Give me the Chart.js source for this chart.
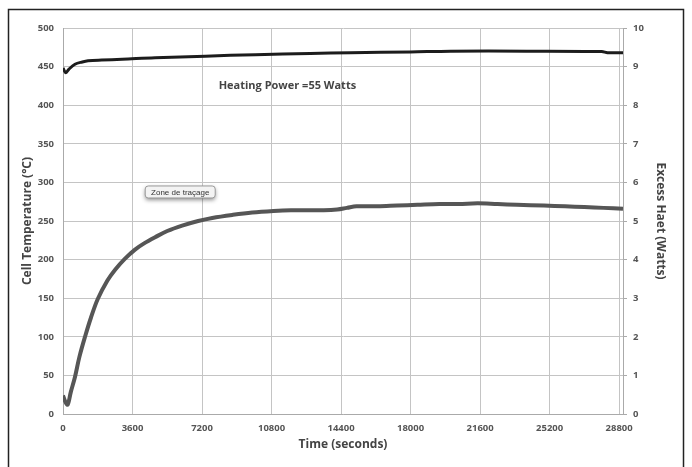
<!DOCTYPE html>
<html>
<head>
<meta charset="utf-8">
<script src="https://cdn.jsdelivr.net/npm/chart.js@4.4.1/dist/chart.umd.min.js"></script>
<style>
  html, body { margin: 0; padding: 0; background: #fff; }
  #wrap { width: 692px; height: 467px; position: relative; }
</style>
</head>
<body>
<div id="wrap"><canvas id="cellChart" width="692" height="467"></canvas></div>
<script>
// Data
const xTicks = [0, 3600, 7200, 10800, 14400, 18000, 21600, 25200, 28800];

// lower curve (left axis, Cell Temperature °C)
const tempTime = [0, 120, 240, 400, 620, 850, 1140, 1450, 1800, 2300, 2700, 3200, 3730, 4200, 4770, 5400, 6170, 7000, 7730, 8800, 9800, 10900, 11800, 12650, 13500, 14200, 14700, 15200, 16300, 17300, 18360, 19500, 20500, 21470, 22500, 23500, 24900, 26000, 27000, 28000, 29000];
const tempValues = [24, 16, 12, 28, 48, 74, 100, 125, 149, 173, 187, 201, 213, 221, 229, 237, 244, 250, 254, 258, 261, 263, 264, 264, 264, 265, 267, 269, 269, 270, 271, 272, 272, 273, 272, 271, 270, 269, 268, 267, 266];

// upper curve (right axis, Excess heat W)
const heatTime = [0, 150, 300, 620, 1000, 1300, 2000, 3060, 4770, 7370, 9960, 12800, 14900, 18000, 20070, 24000, 27900, 28200, 29000];
const heatValues = [8.96, 8.84, 8.93, 9.06, 9.12, 9.15, 9.17, 9.19, 9.23, 9.27, 9.31, 9.34, 9.36, 9.38, 9.40, 9.40, 9.39, 9.36, 9.36];

const FONT = '"Open Sans", "Liberation Sans", sans-serif';

// text notes + frame
const notesPlugin = {
    id: 'notes',
    afterDraw: function(chart) {
        const ctx = chart.ctx;
        const x = chart.scales.x, y = chart.scales.y;
        ctx.save();

        // Heating power label
        ctx.font = 'bold 11px ' + FONT;
        ctx.fillStyle = '#444';
        ctx.textAlign = 'center';
        ctx.textBaseline = 'middle';
        ctx.fillText('Heating Power =55 Watts', x.getPixelForValue(11620), y.getPixelForValue(425));

        // "Zone de traçage" tag
        const cx = x.getPixelForValue(6070), cy = y.getPixelForValue(287.6);
        const w = 70, h = 12;
        ctx.shadowColor = 'rgba(0,0,0,0.45)';
        ctx.shadowBlur = 4;
        ctx.shadowOffsetY = 2;
        ctx.fillStyle = '#f3f3f3';
        ctx.beginPath();
        ctx.roundRect(cx - w / 2, cy - h / 2, w, h, 3);
        ctx.fill();
        ctx.shadowColor = 'transparent';
        ctx.strokeStyle = '#999';
        ctx.lineWidth = 1;
        ctx.stroke();
        ctx.font = '8px "Liberation Sans", sans-serif';
        ctx.fillStyle = '#333';
        ctx.fillText('Zone de traçage', cx, cy + 0.5);

        // outer frame
        ctx.strokeStyle = '#222';
        ctx.lineWidth = 1.5;
        ctx.strokeRect(8.5, 9.5, 675, 470);
        ctx.restore();
    }
};

const tickFont = { family: FONT, size: 9.5, weight: 'bold' };
const titleFont = { family: FONT, size: 12, weight: 'bold' };

new Chart(document.getElementById('cellChart'), {
    type: 'line',
    data: {
        datasets: [
            {
                label: 'Excess Heat',
                data: heatTime.map((t, i) => ({ x: t, y: heatValues[i] })),
                yAxisID: 'y2',
                borderColor: '#1c1c1c',
                borderWidth: 3,
                pointRadius: 0,
                tension: 0.35
            },
            {
                label: 'Cell Temperature',
                data: tempTime.map((t, i) => ({ x: t, y: tempValues[i] })),
                yAxisID: 'y',
                borderColor: '#565656',
                borderWidth: 4,
                pointRadius: 0,
                tension: 0.35
            }
        ]
    },
    options: {
        responsive: false,
        animation: false,
        layout: { padding: { left: 10, right: 10, top: 28, bottom: 10 } },
        plugins: { legend: { display: false }, tooltip: { enabled: false } },
        scales: {
            x: {
                type: 'linear',
                min: 0, max: 29000,
                afterBuildTicks: s => { s.ticks = xTicks.map(v => ({ value: v })); },
                afterFit: s => { s.height = 43; },
                grid: { color: '#c4c4c4', drawTicks: false },
                border: { color: '#aaa' },
                ticks: { padding: 9, color: '#555', font: tickFont, maxRotation: 0, callback: v => String(v) },
                title: { display: true, text: 'Time (seconds)', color: '#444', font: titleFont, padding: { bottom: 5 } }
            },
            y: {
                position: 'left',
                min: 0, max: 500,
                afterFit: s => { s.width = 53; },
                grid: { color: '#c4c4c4', drawTicks: false },
                border: { color: '#aaa' },
                ticks: { stepSize: 50, padding: 9, color: '#555', font: tickFont },
                title: { display: true, text: 'Cell Temperature (°C)', color: '#444', font: titleFont, padding: { top: 10 } }
            },
            y2: {
                position: 'right',
                min: 0, max: 10,
                afterFit: s => { s.width = 59; },
                grid: { drawOnChartArea: false, color: '#aaa', tickLength: 4 },
                border: { color: '#aaa' },
                ticks: { stepSize: 1, padding: 6, color: '#555', font: tickFont },
                title: { display: true, text: 'Excess Haet (Watts)', color: '#444', font: titleFont, padding: { top: 14 } }
            }
        }
    },
    plugins: [notesPlugin]
});
</script>
</body>
</html>
